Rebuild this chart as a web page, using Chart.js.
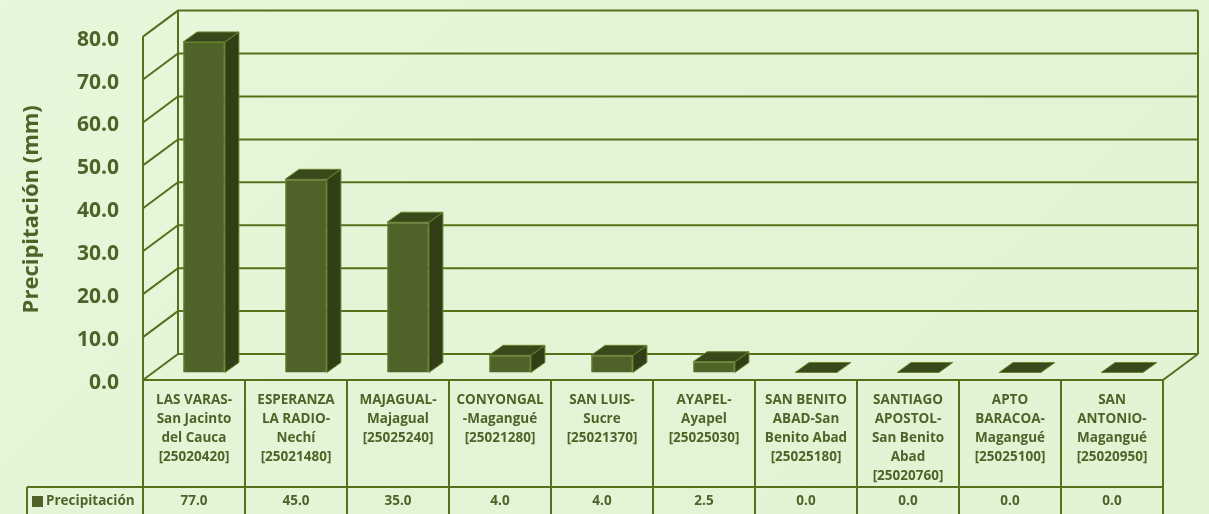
<!DOCTYPE html>
<html>
<head>
<meta charset="utf-8">
<script src="https://cdn.jsdelivr.net/npm/chart.js@4/dist/chart.umd.min.js"></script>
<style>
    html, body { margin: 0; padding: 0; }
    body {
        width: 1209px;
        height: 514px;
        overflow: hidden;
        background: linear-gradient(135deg, #e7f7db 0%, #e3f5d6 45%, #e1f3d3 100%);
    }
    #wrap { position: relative; width: 1209px; height: 514px; }
</style>
</head>
<body>
<div id="wrap"><canvas id="rainChart"></canvas></div>
<script>
// Chart data
const categories = [
    ['LAS VARAS-', 'San Jacinto', 'del Cauca', '[25020420]'],
    ['ESPERANZA', 'LA RADIO-', 'Nechí', '[25021480]'],
    ['MAJAGUAL-', 'Majagual', '[25025240]'],
    ['CONYONGAL', '-Magangué', '[25021280]'],
    ['SAN LUIS-', 'Sucre', '[25021370]'],
    ['AYAPEL-', 'Ayapel', '[25025030]'],
    ['SAN BENITO', 'ABAD-San', 'Benito Abad', '[25025180]'],
    ['SANTIAGO', 'APOSTOL-', 'San Benito', 'Abad', '[25020760]'],
    ['APTO', 'BARACOA-', 'Magangué', '[25025100]'],
    ['SAN', 'ANTONIO-', 'Magangué', '[25020950]']
];
const precipitation = [77.0, 45.0, 35.0, 4.0, 4.0, 2.5, 0.0, 0.0, 0.0, 0.0];
const seriesName = 'Precipitación';
const axisTitle = 'Precipitación (mm)';
const yMin = 0, yMax = 80, yStep = 10;

// Look
const FONT = '"Open Sans", "DejaVu Sans", sans-serif';
const TEXT = '#4f6228';
const LINE = '#55711c';
const BAR_FRONT = '#4f6228';
const BAR_SIDE = '#313e16';
const BAR_TOP = '#3a491c';
const BAR_EDGE = '#66852c';

// 3D offsets
const WALL_DX = 35, WALL_DY = -26;
const BAR_SHIFT_X = 10, BAR_SHIFT_Y = -7.5;
const BAR_DX = 14, BAR_DY = -10;

// Walls, floor and grid
const wallsPlugin = {
    id: 'walls',
    beforeDatasetsDraw(chart) {
        const { ctx, chartArea: a, scales: { y } } = chart;
        ctx.save();
        ctx.strokeStyle = LINE;
        ctx.lineWidth = 2;
        ctx.beginPath();
        for (let v = yMin; v <= yMax; v += yStep) {
            const yf = y.getPixelForValue(v);
            ctx.moveTo(a.left, yf);
            ctx.lineTo(a.left + WALL_DX, yf + WALL_DY);
            ctx.lineTo(a.right + WALL_DX, yf + WALL_DY);
        }
        // verticals
        ctx.moveTo(a.left, a.top);
        ctx.lineTo(a.left, a.bottom);
        ctx.moveTo(a.left + WALL_DX, a.top + WALL_DY);
        ctx.lineTo(a.left + WALL_DX, a.bottom + WALL_DY);
        ctx.moveTo(a.right + WALL_DX, a.top + WALL_DY);
        ctx.lineTo(a.right + WALL_DX, a.bottom + WALL_DY);
        // floor
        ctx.moveTo(a.left, a.bottom);
        ctx.lineTo(a.right, a.bottom);
        ctx.lineTo(a.right + WALL_DX, a.bottom + WALL_DY);
        ctx.stroke();
        ctx.restore();

        // shift the bars into the middle of the depth
        ctx.save();
        ctx.translate(BAR_SHIFT_X, BAR_SHIFT_Y);
    },
    afterDatasetsDraw(chart) {
        const { ctx } = chart;
        const meta = chart.getDatasetMeta(0);
        ctx.lineWidth = 1;
        ctx.strokeStyle = BAR_EDGE;
        meta.data.forEach(bar => {
            const { x, y, base, width } = bar.getProps(['x', 'y', 'base', 'width'], true);
            const l = x - width / 2, r = x + width / 2;
            // side face
            if (base - y > 0.5) {
                ctx.fillStyle = BAR_SIDE;
                ctx.beginPath();
                ctx.moveTo(r, y);
                ctx.lineTo(r + BAR_DX, y + BAR_DY);
                ctx.lineTo(r + BAR_DX, base + BAR_DY);
                ctx.lineTo(r, base);
                ctx.closePath();
                ctx.fill();
                ctx.stroke();
            }
            // top face
            ctx.fillStyle = BAR_TOP;
            ctx.beginPath();
            ctx.moveTo(l, y);
            ctx.lineTo(l + BAR_DX, y + BAR_DY);
            ctx.lineTo(r + BAR_DX, y + BAR_DY);
            ctx.lineTo(r, y);
            ctx.closePath();
            ctx.fill();
            ctx.stroke();
        });
        ctx.restore();
    },
    afterDraw(chart) {
        const { ctx, chartArea: a, scales: { x } } = chart;
        const rowTop = 487, rowBottom = 520, legendLeft = 27;
        ctx.save();
        // axis title
        ctx.fillStyle = TEXT;
        ctx.font = 'bold 22px ' + FONT;
        ctx.textAlign = 'center';
        ctx.textBaseline = 'middle';
        ctx.translate(32, (a.top + a.bottom) / 2 + 1);
        ctx.rotate(-Math.PI / 2);
        ctx.fillText(axisTitle, 0, 0);
        ctx.restore();

        // data table
        ctx.save();
        ctx.strokeStyle = LINE;
        ctx.lineWidth = 2;
        ctx.beginPath();
        const half = (x.getPixelForValue(1) - x.getPixelForValue(0)) / 2;
        for (let i = 0; i <= categories.length; i++) {
            const xx = i < categories.length ? x.getPixelForValue(i) - half : x.getPixelForValue(i - 1) + half;
            ctx.moveTo(xx, a.bottom);
            ctx.lineTo(xx, rowBottom);
        }
        ctx.moveTo(legendLeft, rowTop);
        ctx.lineTo(a.right, rowTop);
        ctx.moveTo(legendLeft, rowTop);
        ctx.lineTo(legendLeft, rowBottom);
        ctx.stroke();

        ctx.fillStyle = TEXT;
        ctx.font = 'bold 13.5px ' + FONT;
        ctx.textAlign = 'center';
        ctx.textBaseline = 'middle';
        categories.forEach((lines, i) => {
            const cx = x.getPixelForValue(i);
            lines.forEach((t, k) => ctx.fillText(t, cx, 400 + k * 19));
            ctx.fillText(precipitation[i].toFixed(1), cx, 501);
        });
        // legend cell
        ctx.fillStyle = BAR_FRONT;
        ctx.fillRect(32, 496, 11, 11);
        ctx.fillStyle = TEXT;
        ctx.textAlign = 'left';
        ctx.fillText(seriesName, 46, 501);
        ctx.restore();
    }
};

new Chart(document.getElementById('rainChart'), {
    type: 'bar',
    data: {
        labels: categories,
        datasets: [{
            label: seriesName,
            data: precipitation,
            backgroundColor: BAR_FRONT,
            borderColor: BAR_EDGE,
            borderWidth: 1,
            categoryPercentage: 1,
            barPercentage: 0.41,
            clip: false
        }]
    },
    options: {
        responsive: true,
        maintainAspectRatio: false,
        animation: false,
        layout: { padding: { left: 0, right: 46, top: 33, bottom: 134 } },
        plugins: {
            legend: { display: false },
            tooltip: { enabled: false }
        },
        scales: {
            x: { display: false },
            y: {
                min: yMin,
                max: yMax,
                afterFit(scale) { scale.width = 143; },
                grid: { display: false, drawTicks: false },
                border: { display: false },
                ticks: {
                    stepSize: yStep,
                    padding: 24,
                    labelOffset: 3,
                    color: TEXT,
                    font: { family: FONT, size: 21, weight: 'bold' },
                    callback: v => v.toFixed(1)
                }
            }
        }
    },
    plugins: [wallsPlugin]
});
</script>
</body>
</html>
